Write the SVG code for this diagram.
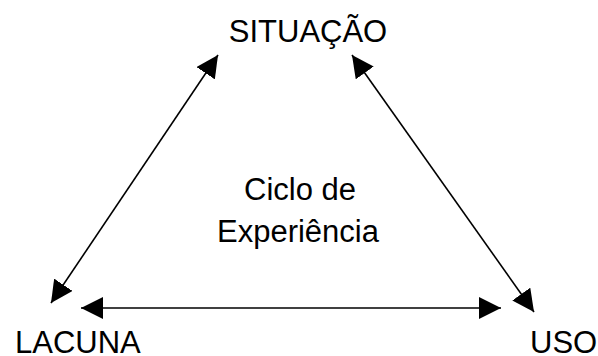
<svg xmlns="http://www.w3.org/2000/svg" width="598" height="356" viewBox="0 0 598 356">
<style>
text{font-family:"Liberation Sans",Arial,sans-serif;font-size:31px;fill:#000}
.c{stroke:#000;stroke-width:1.6;fill:none;marker-start:url(#ah);marker-end:url(#ah)}
</style>
<defs>
<marker id="ah" markerUnits="userSpaceOnUse" markerWidth="22" markerHeight="22" refX="22" refY="11" orient="auto-start-reverse" viewBox="0 0 22 22">
<path d="M0,0 L22,11 L0,22 z" fill="#000"/>
</marker>
</defs>
<rect width="598" height="356" fill="#fff"/>
<g id="connectors">
<line class="c" x1="218" y1="55" x2="51" y2="303"/>
<line class="c" x1="352" y1="55" x2="534" y2="312"/>
<line class="c" x1="81" y1="308" x2="501" y2="308"/>
</g>
<g id="situacao"><text x="308" y="42" text-anchor="middle">SITUAÇÃO</text></g>
<g id="lacuna"><text x="15" y="353">LACUNA</text></g>
<g id="uso"><text x="530" y="353">USO</text></g>
<g id="ciclo"><text x="300" y="200" text-anchor="middle">Ciclo de</text><text x="298" y="242" text-anchor="middle">Experiência</text></g>
</svg>
